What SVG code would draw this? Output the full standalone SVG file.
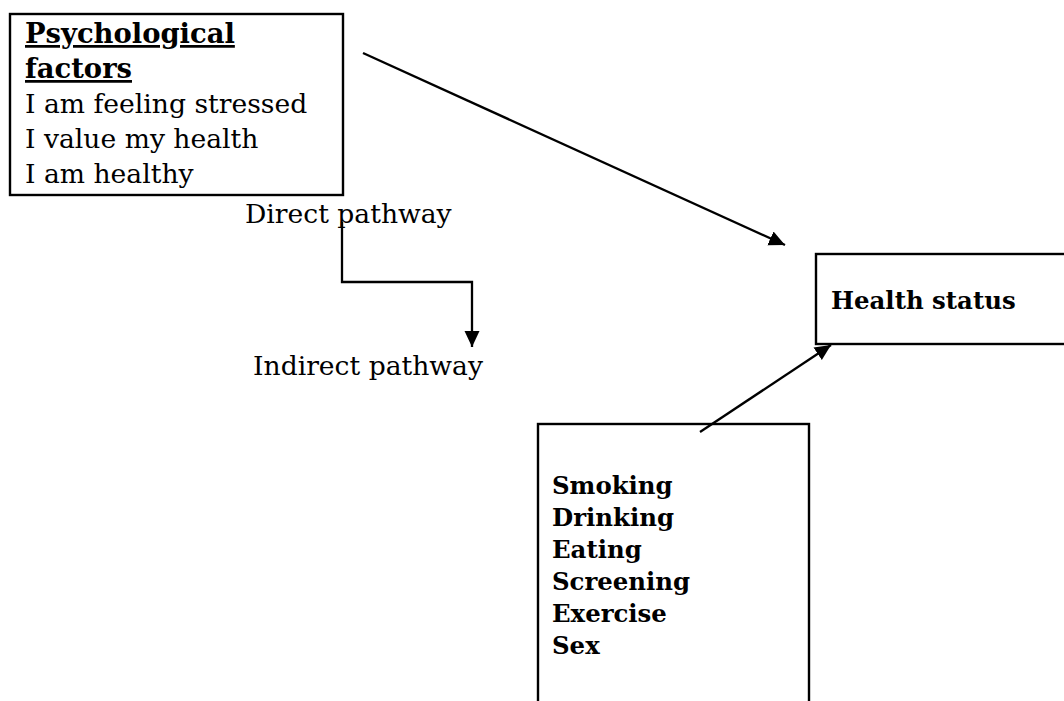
<svg xmlns="http://www.w3.org/2000/svg" width="1064" height="701" viewBox="0 0 1064 701">
  <style>
    .box { fill: #ffffff; stroke: #000000; stroke-width: 2.4; }
    .conn { fill: none; stroke: #000000; stroke-width: 2.3; }
    .t { font-family: "DejaVu Serif", "Liberation Serif", serif; fill: #000000; }
    .big { font-size: 26.6px; }
    .head { font-size: 27.4px; }
    .small { font-size: 24.4px; }
    .b { font-weight: bold; }
    .u { text-decoration: underline; }
  </style>
  <defs>
    <marker id="arrow" markerUnits="userSpaceOnUse" markerWidth="18" markerHeight="18" viewBox="0 0 18 18" refX="16" refY="9" orient="auto">
      <path d="M0,1.5 L16,9 L0,16.5 Z" fill="#000000"/>
    </marker>
  </defs>
  <rect width="1064" height="701" fill="#ffffff"/>

  <g id="psychological-factors">
    <rect class="box" x="10" y="14" width="333" height="181"/>
    <text class="t head b u" x="25" y="43">Psychological</text>
    <text class="t head b u" x="25" y="78">factors</text>
    <text class="t big" x="25" y="113">I am feeling stressed</text>
    <text class="t big" x="25" y="148">I value my health</text>
    <text class="t big" x="25" y="183">I am healthy</text>
  </g>

  <g id="health-status">
    <rect class="box" x="816" y="254" width="260" height="90"/>
    <text class="t small b" x="831" y="309">Health status</text>
  </g>

  <g id="behaviours">
    <rect class="box" x="538" y="424" width="271" height="290"/>
    <text class="t small b" x="552" y="494">Smoking</text>
    <text class="t small b" x="552" y="526">Drinking</text>
    <text class="t small b" x="552" y="558">Eating</text>
    <text class="t small b" x="552" y="590">Screening</text>
    <text class="t small b" x="552" y="622">Exercise</text>
    <text class="t small b" x="552" y="654">Sex</text>
  </g>

  <g id="labels">
    <text class="t big" x="245" y="223">Direct pathway</text>
    <text class="t big" x="253" y="375">Indirect pathway</text>
  </g>

  <g id="connectors">
    <line class="conn" x1="363" y1="53" x2="785" y2="245" marker-end="url(#arrow)"/>
    <line class="conn" x1="700" y1="432" x2="831" y2="345" marker-end="url(#arrow)"/>
    <polyline class="conn" points="342,222 342,282 472,282 472,347" marker-end="url(#arrow)"/>
  </g>
</svg>
